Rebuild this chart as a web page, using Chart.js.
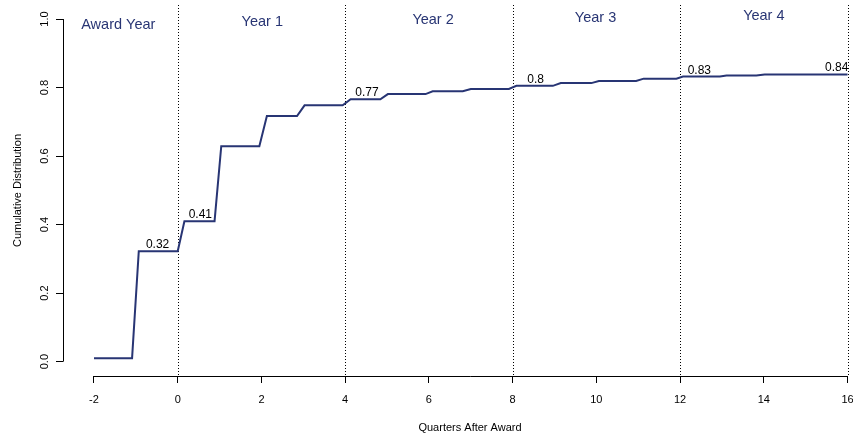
<!DOCTYPE html>
<html>
<head>
<meta charset="utf-8">
<script src="https://cdn.jsdelivr.net/npm/chart.js@4/dist/chart.umd.min.js"></script>
<style>
  body { margin: 0; background: #fff; }
  #wrap { width: 853px; height: 438px; position: relative; }
</style>
</head>
<body>
<div id="wrap"><canvas id="grafico-cdf"></canvas></div>
<script>
// Datos de la curva (cuartos respecto a la adjudicación, distribución acumulada)
const cuartos = [-2, -1.09, -0.93, 0, 0.16, 0.88, 1.04, 1.95, 2.13, 2.85, 3.03, 3.94, 4.13, 4.84, 5.02, 5.92,
  6.09, 6.81, 7.0, 7.91, 8.09, 8.96, 9.15, 9.88, 10.06, 10.95, 11.13, 11.91, 12.07, 12.95, 13.11, 13.82, 14.02, 16];
const acumulado = [0.01, 0.01, 0.322, 0.322, 0.41, 0.41, 0.629, 0.629, 0.717, 0.717, 0.748, 0.748, 0.766, 0.766, 0.781, 0.781,
  0.789, 0.789, 0.796, 0.796, 0.805, 0.805, 0.813, 0.813, 0.819, 0.819, 0.826, 0.826, 0.832, 0.832, 0.835, 0.835, 0.838, 0.838];

// Etiquetas de valores sobre la curva
const etiquetasValor = ['0.32', '0.41', '0.77', '0.8', '0.83', '0.84'];
const etiquetasX = [-0.48, 0.54, 4.52, 8.55, 12.46, 15.74];
const etiquetasY = [0.322, 0.41, 0.766, 0.805, 0.832, 0.839];

// Periodos (años) y sus divisiones
const periodos = ['Award Year', 'Year 1', 'Year 2', 'Year 3', 'Year 4'];
const periodosX = [-1.42, 2.02, 6.1, 9.98, 14.0];
const periodosY = [0.984, 0.991, 0.997, 1.004, 1.010];
const divisiones = [0, 4, 8, 12, 16];

// Ticks de los ejes
const ticksX = [-2, 0, 2, 4, 6, 8, 10, 12, 14, 16];
const ticksY = [0, 0.2, 0.4, 0.6, 0.8, 1.0];

const AZUL = '#283574';
const FUENTE = '"Liberation Sans", Arial, Helvetica, sans-serif';

const pluginAnotaciones = {
  id: 'anotaciones',
  beforeDatasetsDraw(chart) {
    const { ctx, chartArea, scales: { x } } = chart;
    ctx.save();
    ctx.strokeStyle = '#000';
    ctx.lineWidth = 1;
    ctx.setLineDash([1, 2]);
    divisiones.forEach(d => {
      const px = Math.round(x.getPixelForValue(d)) + 0.5;
      ctx.beginPath();
      ctx.moveTo(px, chartArea.top);
      ctx.lineTo(px, chartArea.bottom);
      ctx.stroke();
    });
    ctx.restore();
  },
  afterDatasetsDraw(chart) {
    const { ctx, chartArea, scales: { x, y } } = chart;
    ctx.save();
    // Etiquetas de valores
    ctx.fillStyle = '#000';
    ctx.font = '12px ' + FUENTE;
    ctx.textAlign = 'center';
    ctx.textBaseline = 'alphabetic';
    etiquetasValor.forEach((t, i) => {
      ctx.fillText(t, x.getPixelForValue(etiquetasX[i]), y.getPixelForValue(etiquetasY[i]) - 3);
    });
    // Etiquetas de periodos
    ctx.fillStyle = AZUL;
    ctx.font = '14.5px ' + FUENTE;
    ctx.textBaseline = 'middle';
    periodos.forEach((t, i) => {
      ctx.fillText(t, x.getPixelForValue(periodosX[i]), y.getPixelForValue(periodosY[i]));
    });
    // Líneas de ejes al estilo R
    ctx.strokeStyle = '#000';
    ctx.lineWidth = 1;
    ctx.beginPath();
    const ax = Math.round(chartArea.left) + 0.5;
    ctx.moveTo(ax, y.getPixelForValue(ticksY[0]));
    ctx.lineTo(ax, y.getPixelForValue(ticksY[ticksY.length - 1]));
    const ay = Math.round(chartArea.bottom) + 0.5;
    ctx.moveTo(x.getPixelForValue(ticksX[0]), ay);
    ctx.lineTo(x.getPixelForValue(ticksX[ticksX.length - 1]), ay);
    ctx.stroke();
    // Etiquetas del eje Y (rotadas)
    ctx.fillStyle = '#000';
    ctx.font = '11px ' + FUENTE;
    ctx.textAlign = 'center';
    ctx.textBaseline = 'middle';
    ticksY.forEach(v => {
      ctx.save();
      ctx.translate(45, y.getPixelForValue(v));
      ctx.rotate(-Math.PI / 2);
      ctx.fillText(v.toFixed(1), 0, 0);
      ctx.restore();
    });
    // Título del eje X
    ctx.fillText('Quarters After Award', 470, 428);
    ctx.restore();
  }
};

const puntos = cuartos.map((q, i) => ({ x: q, y: acumulado[i] }));

new Chart(document.getElementById('grafico-cdf'), {
  type: 'line',
  data: {
    datasets: [{
      label: 'Cumulative Distribution',
      data: puntos,
      borderColor: AZUL,
      backgroundColor: AZUL,
      borderWidth: 2,
      pointRadius: 0,
      tension: 0,
      fill: false
    }]
  },
  options: {
    responsive: true,
    maintainAspectRatio: false,
    animation: false,
    layout: { padding: { top: 5, right: 0, bottom: 0, left: 0 } },
    plugins: {
      legend: { display: false },
      tooltip: { enabled: false }
    },
    scales: {
      x: {
        type: 'linear',
        min: -2.74,
        max: 16.13,
        afterBuildTicks: scale => { scale.ticks = ticksX.map(v => ({ value: v })); },
        afterFit: scale => {
          scale.height = 62;
          scale.paddingLeft = 0;
          scale.paddingRight = 0;
        },
        border: { display: false },
        grid: { drawOnChartArea: false, drawTicks: true, tickLength: 7, color: '#000' },
        ticks: {
          padding: 10,
          color: '#000',
          font: { family: FUENTE, size: 11 },
          maxRotation: 0,
          callback: v => String(v)
        }
      },
      y: {
        type: 'linear',
        min: -0.042,
        max: 1.041,
        afterBuildTicks: scale => { scale.ticks = ticksY.map(v => ({ value: v })); },
        afterFit: scale => {
          scale.width = 63;
          scale.paddingTop = 0;
          scale.paddingBottom = 0;
        },
        border: { display: false },
        grid: { drawOnChartArea: false, drawTicks: true, tickLength: 7, color: '#000' },
        ticks: { display: false },
        title: {
          display: true,
          text: 'Cumulative Distribution',
          color: '#000',
          font: { family: FUENTE, size: 11 },
          padding: { top: 11, bottom: 0 }
        }
      }
    }
  },
  plugins: [pluginAnotaciones]
});
</script>
</body>
</html>
